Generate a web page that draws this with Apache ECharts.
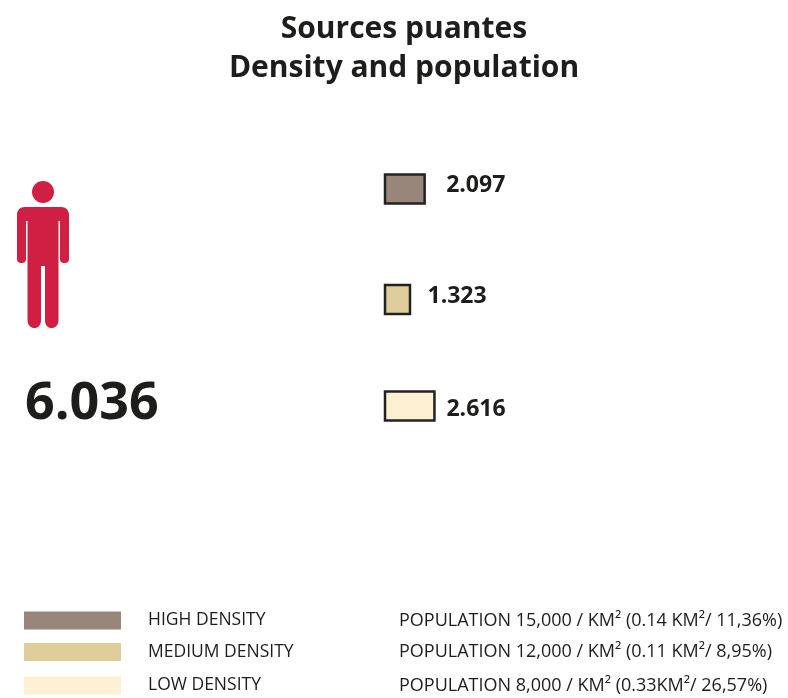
<!DOCTYPE html>
<html><head><meta charset="utf-8">
<style>html,body{margin:0;padding:0;background:#fff}#c{width:788px;height:698px}</style>
<script src="https://cdn.jsdelivr.net/npm/echarts@6/dist/echarts.min.js"></script>
</head><body><div id="c"></div>
<script>
var titleLines = ['Sources puantes', 'Density and population'];
var totalLabel = '6.036';
var densityNames = ['HIGH DENSITY', 'MEDIUM DENSITY', 'LOW DENSITY'];
var populationNotes = [
  'POPULATION 15,000 / KM\u00B2 (0.14 KM\u00B2/ 11,36%)',
  'POPULATION 12,000 / KM\u00B2 (0.11 KM\u00B2/ 8,95%)',
  'POPULATION 8,000 / KM\u00B2 (0.33KM\u00B2/ 26,57%)'
];
var densityValues = [2.097, 1.323, 2.616];
var densityLabels = ['2.097', '1.323', '2.616'];
var densityColors = ['#978679', '#decd9b', '#fef0d2'];

var INK = '#1d1d1b', RED = '#cf1f42', FONT = '"Open Sans", "Noto Sans", sans-serif';
var rowShift = [-2, 0.5, -1];
var labelGap = [21.500, 17.500, 12];
var labelShift = [-3.5, -3, 3.5];
var legendY = [620.5, 652, 685.5];
var PERSON_BODY = 'M25 207H61C66 207 69 210.500 69 215V259C69 262 67 263 64.500 263C62 263 60 262 60 259V221H58.500V320C58.500 325.500 55 328 51.500 328C48 328 45 325.500 45 320V266H41V320C41 325.500 38 328 34.500 328C31 328 27.500 325.500 27.500 320V221H26V259C26 262 24 263 21.500 263C19 263 17 262 17 259V215C17 210.500 20 207 25 207Z';

var chart = echarts.init(document.getElementById('c'), null, {renderer: 'canvas'});

var graphics = [
  {type: 'circle', shape: {cx: 43, cy: 192, r: 11}, style: {fill: RED}},
  {type: 'text', x: 25, y: 404, style: {text: totalLabel, font: 'bold 52px ' + FONT, fill: INK, textVerticalAlign: 'middle'}}
];
densityNames.forEach(function (name, i) {
  graphics.push({type: 'rect', shape: {x: 24, y: legendY[i] - 9, width: 97, height: 18}, style: {fill: densityColors[i]}});
  graphics.push({type: 'text', x: 148, y: legendY[i], style: {text: name, font: '17.5px ' + FONT, fill: INK, textVerticalAlign: 'middle'}});
  graphics.push({type: 'text', x: 399, y: legendY[i], style: {text: populationNotes[i], font: '18px ' + FONT, fill: INK, textVerticalAlign: 'middle'}});
});

chart.setOption({
  animation: false,
  backgroundColor: '#fff',
  title: {
    text: titleLines.join('\n'),
    left: 399, top: 5, textAlign: 'center',
    textStyle: {fontFamily: FONT, fontWeight: 'bold', fontSize: 30, lineHeight: 39, color: INK}
  },
  grid: {left: 385, width: 189, top: 137, height: 324},
  xAxis: {type: 'value', min: 0, max: 10, show: false},
  yAxis: {type: 'category', inverse: true, data: densityLabels, show: false},
  series: [{
    type: 'custom',
    coordinateSystem: 'cartesian2d',
    encode: {x: 0, y: 1},
    data: densityValues.map(function (v, i) { return [v, i]; }),
    renderItem: function (params, api) {
      var i = api.value(1);
      var end = api.coord([api.value(0), i]);
      var start = api.coord([0, i]);
      var cy = end[1] + rowShift[i];
      return {type: 'group', children: [
        {type: 'rect', shape: {x: start[0], y: cy - 14.500, width: end[0] - start[0], height: 29},
         style: {fill: densityColors[i], stroke: '#222220', lineWidth: 2.500}},
        {type: 'text', x: end[0] + labelGap[i], y: cy + labelShift[i],
         style: {text: densityLabels[i], font: 'bold 23px ' + FONT, fill: INK, textVerticalAlign: 'middle'}}
      ]};
    }
  }, {
    type: 'custom',
    coordinateSystem: 'none',
    silent: true,
    data: [[0]],
    renderItem: function () {
      return {type: 'path', shape: {pathData: PERSON_BODY, x: 17, y: 207, width: 52, height: 121},
              style: {fill: RED}};
    }
  }],
  graphic: graphics
});
</script></body></html>
